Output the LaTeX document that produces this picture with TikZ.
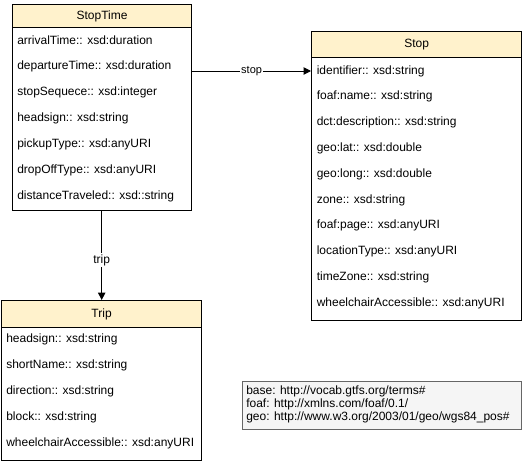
\documentclass[tikz,border=0pt]{standalone}
\usepackage{fontspec}
\setmainfont{Liberation Sans}
\usetikzlibrary{arrows.meta}
\definecolor{hdrfill}{HTML}{FFF2CC}
\definecolor{notefill}{HTML}{F5F5F5}
\definecolor{noteline}{HTML}{666666}
\tikzset{
  boxline/.style={draw=black, line width=0.9pt},
  header/.style={boxline, fill=hdrfill, anchor=north west, inner sep=0pt,
    font=\fontsize{9}{11}\selectfont},
  body/.style={boxline, fill=white, anchor=north west, inner sep=0pt},
  field/.style={anchor=west, inner sep=0pt, font=\fontsize{9}{11}\selectfont},
  link/.style={draw=black, line width=0.75pt, -{Triangle[length=5.5pt,width=5.5pt]}},
  linklabel/.style={fill=white, inner sep=1pt},
}
\begin{document}
\begin{tikzpicture}[x=0.75pt,y=-0.75pt]
\useasboundingbox (0,0) rectangle (522,461);

% StopTime class
\node[body, minimum width=179*0.75pt, minimum height=183*0.75pt] (stbody) at (12,27) {};
\node[header, minimum width=179*0.75pt, minimum height=23*0.75pt] (sthead) at (12,4) {StopTime};
\foreach \t [count=\i from 0] in {arrivalTime:: xsd:duration, departureTime:: xsd:duration,
  stopSequece:: xsd:integer, headsign:: xsd:string, pickupType:: xsd:anyURI,
  dropOffType:: xsd:anyURI, distanceTraveled:: xsd::string}
  \node[field] (st\i) at (17,40.5+25.9*\i) {\t};

% Stop class
\node[body, minimum width=210*0.75pt, minimum height=263*0.75pt] (stopbody) at (311,57) {};
\node[header, minimum width=210*0.75pt, minimum height=26*0.75pt] (stophead) at (311,31) {Stop};
\foreach \t [count=\i from 0] in {identifier:: xsd:string, foaf:name:: xsd:string,
  dct:description:: xsd:string, geo:lat:: xsd:double, geo:long:: xsd:double,
  zone:: xsd:string, foaf:page:: xsd:anyURI, locationType:: xsd:anyURI,
  timeZone:: xsd:string, wheelchairAccessible:: xsd:anyURI}
  \node[field] (sp\i) at (316.5,71+25.8*\i) {\t};

% Trip class
\node[body, minimum width=200*0.75pt, minimum height=133*0.75pt] (tripbody) at (1,327) {};
\node[header, minimum width=200*0.75pt, minimum height=27*0.75pt] (triphead) at (1,300) {Trip};
\foreach \t [count=\i from 0] in {headsign:: xsd:string, shortName:: xsd:string,
  direction:: xsd:string, block:: xsd:string, wheelchairAccessible:: xsd:anyURI}
  \node[field] (tr\i) at (6,339.5+25.9*\i) {\t};

% Namespace note
\node[draw=noteline, fill=notefill, line width=0.75pt, anchor=north west,
  minimum width=279*0.75pt, minimum height=48*0.75pt, inner sep=0pt] (note) at (241.5,381) {};
\node[anchor=north west, inner sep=0pt, align=left,
  font=\fontsize{9}{9.4}\selectfont] (notetext) at (246,386)
  {base: http://vocab.gtfs.org/terms\#\\
   foaf: http://xmlns.com/foaf/0.1/\\
   geo: http://www.w3.org/2003/01/geo/wgs84\_pos\#};

% Associations
\coordinate (stopfrom) at (stbody.east |- sp0);
\draw[link] (stopfrom) -- (stopbody.west |- sp0)
  node[linklabel, pos=0.5, font=\fontsize{8.25}{10}\selectfont] {stop};
\draw[link] (stbody.south -| 101.7,0) -- (triphead.north -| 101.7,0)
  node[linklabel, pos=0.55, font=\fontsize{9}{11}\selectfont] {trip};
\end{tikzpicture}
\end{document}
